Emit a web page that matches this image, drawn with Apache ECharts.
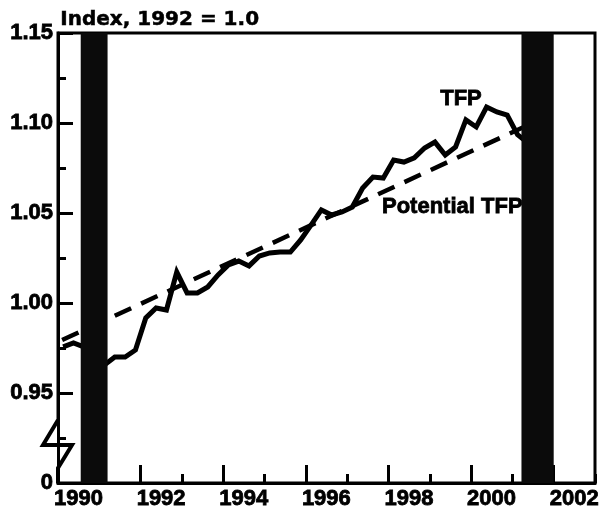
<!DOCTYPE html>
<html>
<head>
<meta charset="utf-8">
<script src="https://cdn.jsdelivr.net/npm/echarts@6/dist/echarts.min.js"></script>
<style>
html,body{margin:0;padding:0;background:#fff}
#container{width:604px;height:514px}
</style>
</head>
<body>
<div id="container"></div>
<script>
// quarterly TFP index, 1992 = 1.0
var quarterLabels = [
	'1990Q1','1990Q2','1990Q3','1990Q4',
	'1991Q1','1991Q2','1991Q3','1991Q4',
	'1992Q1','1992Q2','1992Q3','1992Q4',
	'1993Q1','1993Q2','1993Q3','1993Q4',
	'1994Q1','1994Q2','1994Q3','1994Q4',
	'1995Q1','1995Q2','1995Q3','1995Q4',
	'1996Q1','1996Q2','1996Q3','1996Q4',
	'1997Q1','1997Q2','1997Q3','1997Q4',
	'1998Q1','1998Q2','1998Q3','1998Q4',
	'1999Q1','1999Q2','1999Q3','1999Q4',
	'2000Q1','2000Q2','2000Q3','2000Q4',
	'2001Q1','2001Q2','2001Q3'
];
var tfpValues = [
	0.9756, 0.9778, 0.9756, 0.9700,
	0.9656, 0.9700, 0.9700, 0.9739,
	0.9917, 0.9972, 0.9961, 1.0172,
	1.0056, 1.0056, 1.0089, 1.0156,
	1.0211, 1.0233, 1.0206, 1.0261,
	1.0278, 1.0283, 1.0283, 1.0350,
	1.0433, 1.0517, 1.0489, 1.0506,
	1.0533, 1.0639, 1.0700, 1.0694,
	1.0794, 1.0783, 1.0806, 1.0861,
	1.0894, 1.0822, 1.0867, 1.1017,
	1.0978, 1.1089, 1.1061, 1.1044,
	1.0935, 1.0889, 1.0880
];
// potential TFP trend (dashed)
var potentialYears = [1990.1, 2001.25];
var potentialValues = [0.9794, 1.0975];
// recession shading
var recessionStart = [1990.55, 2001.22];
var recessionEnd = [1991.2, 2002.0];

var G = {left: 58, right: 9, top: 33, bottom: 31};

function quarterToYear(q) {
	var y = +q.slice(0, 4), n = +q.slice(5);
	return y + (n - 0.5) / 4;
}

var tfpData = quarterLabels.map(function (q, i) {
	return [quarterToYear(q), tfpValues[i]];
});
var potentialData = potentialYears.map(function (y, i) {
	return [y, potentialValues[i]];
});
var recessionData = recessionStart.map(function (s, i) {
	return [s, recessionEnd[i]];
});

var labelFont = 'Liberation Sans';
var chart = echarts.init(document.getElementById('container'));
var base = 514 - G.bottom;

var option = {
	animation: false,
	backgroundColor: '#fff',
	grid: {
		left: G.left, right: G.right, top: G.top, bottom: G.bottom,
		show: true, borderColor: '#000', borderWidth: 3
	},
	xAxis: [{
		type: 'value', min: 1990, max: 2003, interval: 2, position: 'bottom',
		axisLine: {lineStyle: {color: '#000', width: 3}},
		axisTick: {inside: true, length: 18, lineStyle: {color: '#000', width: 3}},
		axisLabel: {
			color: '#000', fontSize: 22, fontWeight: 'bold', fontFamily: labelFont,
			textBorderColor: '#000', textBorderWidth: 0.8,
			margin: 5, padding: [0, 0, 0, 41], showMaxLabel: false,
			formatter: function (v) { return v <= 2002 ? String(v) : ''; }
		},
		splitLine: {show: false}
	}, {
		type: 'value', min: 1990, max: 2003, interval: 1, position: 'bottom',
		axisLine: {show: false},
		axisTick: {inside: true, length: 9, lineStyle: {color: '#000', width: 3}},
		axisLabel: {show: false},
		splitLine: {show: false}
	}],
	yAxis: {
		type: 'value', min: 0.9, max: 1.15, interval: 0.05,
		axisLine: {show: true, lineStyle: {color: '#000', width: 3}},
		axisTick: {show: true, inside: true, length: 15, lineStyle: {color: '#000', width: 3}},
		minorTick: {show: true, splitNumber: 2, length: 8, lineStyle: {color: '#000', width: 3}},
		axisLabel: {
			color: '#000', fontSize: 22, fontWeight: 'bold', fontFamily: labelFont, margin: 5,
			textBorderColor: '#000', textBorderWidth: 0.8,
			formatter: function (v) { return Math.abs(v - 0.9) < 1e-6 ? '0' : v.toFixed(2); }
		},
		splitLine: {show: false}
	},
	series: [{
		name: 'TFP', type: 'line', data: tfpData, showSymbol: false, z: 2,
		lineStyle: {color: '#000', width: 5, join: 'miter'}
	}, {
		name: 'Potential TFP', type: 'line', data: potentialData, showSymbol: false, z: 2,
		lineStyle: {color: '#000', width: 4.5, type: [18, 11]}
	}, {
		name: 'Recession', type: 'custom', z: 5, data: recessionData,
		renderItem: function (params, api) {
			var p0 = api.coord([api.value(0), 1.15]);
			var p1 = api.coord([api.value(1), 0.9]);
			return {
				type: 'rect',
				shape: {x: p0[0], y: p0[1], width: p1[0] - p0[0], height: p1[1] - p0[1]},
				style: {fill: '#0b0b0b'}
			};
		}
	}],
	graphic: [{
		type: 'text', left: 60, top: 10,
		style: {text: 'Index, 1992 = 1.0', font: 'bold 20px "DejaVu Sans"', fill: '#000', stroke: '#000', lineWidth: 0.5}
	}, {
		type: 'text', x: 461, y: 99,
		style: {text: 'TFP', font: 'bold 22px "Liberation Sans"', fill: '#000', stroke: '#000', lineWidth: 0.8, textAlign: 'center', textVerticalAlign: 'middle'}
	}, {
		type: 'text', x: 382, y: 207,
		style: {text: 'Potential TFP', font: 'bold 22px "Liberation Sans"', fill: '#000', stroke: '#000', lineWidth: 0.8, textAlign: 'left', textVerticalAlign: 'middle'}
	}, {
		// axis break
		type: 'rect', shape: {x: 48, y: 420, width: 24, height: 50}, style: {fill: '#fff'}
	}, {
		type: 'polyline',
		shape: {points: [[G.left, 420], [G.left - 15, 445], [G.left + 14, 445], [G.left, 468], [G.left, base]]},
		style: {stroke: '#000', lineWidth: 4, fill: 'none'}
	}]
};
chart.setOption(option);
</script>
</body>
</html>
